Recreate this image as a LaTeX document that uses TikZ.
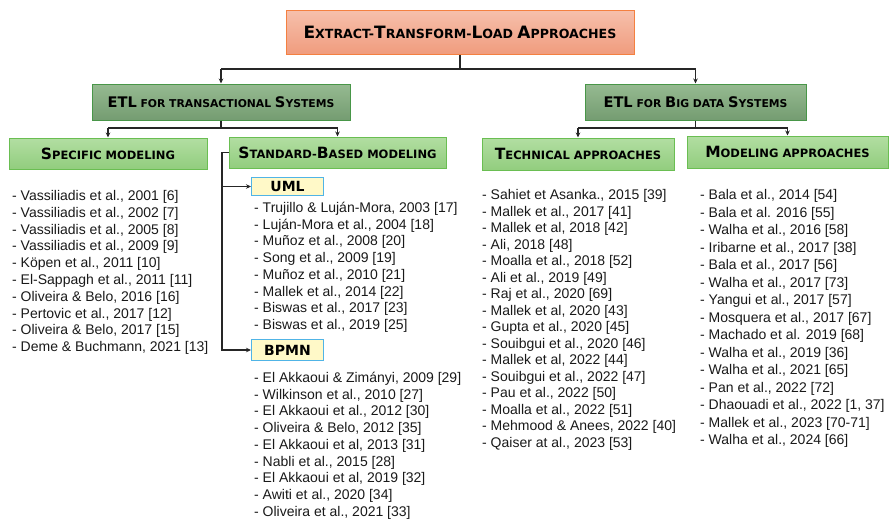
\documentclass[tikz,border=0pt]{standalone}
\usepackage{fontspec}
\setmainfont{Liberation Sans}
\newfontfamily\hdr{DejaVu Sans}
\usetikzlibrary{arrows.meta}
\definecolor{salmonT}{RGB}{246,192,172}
\definecolor{salmonB}{RGB}{240,156,126}
\definecolor{salmonD}{RGB}{244,128,64}
\definecolor{dgT}{RGB}{150,186,145}
\definecolor{dgB}{RGB}{116,156,113}
\definecolor{dgD}{RGB}{72,150,72}
\definecolor{lgT}{RGB}{178,222,162}
\definecolor{lgB}{RGB}{146,205,126}
\definecolor{lgD}{RGB}{106,190,82}
\definecolor{ylw}{RGB}{255,249,200}
\definecolor{blu}{RGB}{80,180,230}
\newcommand{\CapA}[1]{{\fontsize{17}{17}\selectfont #1}}
\newcommand{\CapB}[1]{{\fontsize{14.6}{15}\selectfont #1}}
\newcommand{\CapC}[1]{{\fontsize{15.5}{16}\selectfont #1}}
\tikzset{
  topbox/.style={draw=salmonD, line width=1pt, top color=salmonT, bottom color=salmonB,
    minimum width=348pt, minimum height=44pt, inner sep=0pt,
    font=\hdr\bfseries\fontsize{12.6}{13}\selectfont},
  darkbox/.style={draw=dgD, line width=1pt, top color=dgT, bottom color=dgB,
    minimum height=36pt, inner sep=0pt, font=\hdr\bfseries\fontsize{10.8}{11}\selectfont},
  lightbox/.style={draw=lgD, line width=1pt, top color=lgT, bottom color=lgB,
    inner sep=0pt, font=\hdr\bfseries\fontsize{11.5}{12}\selectfont},
  stdbox/.style={draw=blu, line width=1pt, fill=ylw, inner sep=0pt, minimum width=72pt,
    font=\hdr\bfseries\fontsize{14}{14}\selectfont},
  item/.style={anchor=west, inner sep=0pt, text height=10pt, text depth=3pt,
    font=\fontsize{14}{16}\selectfont, text=black!90},
  conn/.style={line width=1.1pt, black!85},
  arr/.style={conn, -{Stealth[length=5pt,width=4.5pt]}}
}
\begin{document}
\begin{tikzpicture}[x=1pt,y=-1pt]
\useasboundingbox (0,0) rectangle (889,520);
% boxes
\node[topbox] (top) at (460,32) {\CapA{E}XTRACT-\CapA{T}RANSFORM-\CapA{L}OAD \CapA{A}PPROACHES};
\node[darkbox, minimum width=258pt] (etlT) at (221,102) {\CapB{ETL} FOR TRANSACTIONAL \CapB{S}YSTEMS};
\node[darkbox, minimum width=221pt] (etlB) at (695.5,102) {\CapB{ETL} FOR \CapB{B}IG DATA \CapB{S}YSTEMS};
\node[lightbox, minimum width=198pt, minimum height=31pt] (spec) at (108,153.5) {\CapC{S}PECIFIC MODELING};
\node[lightbox, minimum width=217pt, minimum height=31pt] (std) at (337.5,152.5) {\CapC{S}TANDARD-\CapC{B}ASED MODELING};
\node[lightbox, minimum width=192pt, minimum height=32pt] (tech) at (578,154) {\CapC{T}ECHNICAL APPROACHES};
\node[lightbox, minimum width=201pt, minimum height=32pt] (model) at (787.5,152) {\CapC{M}ODELING APPROACHES};
\node[stdbox, minimum height=18pt] (uml) at (287.5,186.5) {UML};
\node[stdbox, minimum height=21pt] (bpmn) at (287.5,350) {BPMN};
% connectors
\coordinate (hL) at (221,69);
\coordinate (hR) at (695.5,69);
\draw[conn] (top.south) -- (top.south |- hL);
\draw[conn] (hL) -- (hR);
\draw[arr] (hL) -- (etlT.north);
\draw[arr] (hR) -- (etlB.north);
\coordinate (tj) at (221,128);
\draw[conn] (etlT.south) -- (tj);
\draw[conn] (spec.north |- tj) -- (std.north |- tj);
\draw[arr] (spec.north |- tj) -- (spec.north);
\draw[arr] (std.north |- tj) -- (std.north);
\coordinate (bj) at (695.5,128);
\draw[conn] (etlB.south) -- (bj);
\draw[conn] (tech.north |- bj) -- (model.north |- bj);
\draw[arr] (tech.north |- bj) -- (tech.north);
\draw[arr] (model.north |- bj) -- (model.north);
\coordinate (bx) at (222,152.5);
\draw[arr] (std.west) -- (bx) |- (bpmn.west);
\draw[arr] (bx |- uml.west) -- (uml.west);
% lists
\foreach [count=\i] \t in {
  {- Vassiliadis et al., 2001 [6]},
  {- Vassiliadis et al., 2002 [7]},
  {- Vassiliadis et al., 2005 [8]},
  {- Vassiliadis et al., 2009 [9]},
  {- Köpen et al., 2011 [10]},
  {- El-Sappagh et al., 2011 [11]},
  {- Oliveira \& Belo, 2016 [16]},
  {- Pertovic et al., 2017 [12]},
  {- Oliveira \& Belo, 2017 [15]},
  {- Deme \& Buchmann, 2021 [13]}}
  \node[item] (sp\i) at (12,{197+(\i-1)*16.8}) {\t};
\foreach [count=\i] \t in {
  {- Trujillo \& Luján-Mora, 2003 [17]},
  {- Luján-Mora et al., 2004 [18]},
  {- Muñoz et al., 2008 [20]},
  {- Song et al., 2009 [19]},
  {- Muñoz et al., 2010 [21]},
  {- Mallek et al., 2014 [22]},
  {- Biswas et al., 2017 [23]},
  {- Biswas et al., 2019 [25]}}
  \node[item] (um\i) at (254,{209+(\i-1)*16.7}) {\t};
\foreach [count=\i] \t in {
  {- El Akkaoui \& Zimányi, 2009 [29]},
  {- Wilkinson et al., 2010 [27]},
  {- El Akkaoui et al., 2012 [30]},
  {- Oliveira \& Belo, 2012 [35]},
  {- El Akkaoui et al, 2013 [31]},
  {- Nabli et al., 2015 [28]},
  {- El Akkaoui et al, 2019 [32]},
  {- Awiti et al., 2020 [34]},
  {- Oliveira et al., 2021 [33]}}
  \node[item] (bp\i) at (254,{379+(\i-1)*16.7}) {\t};
\foreach [count=\i] \t in {
  {- Sahiet et Asanka., 2015 [39]},
  {- Mallek et al., 2017 [41]},
  {- Mallek et al, 2018 [42]},
  {- Ali, 2018 [48]},
  {- Moalla et al., 2018 [52]},
  {- Ali et al., 2019 [49]},
  {- Raj et al., 2020 [69]},
  {- Mallek et al, 2020 [43]},
  {- Gupta et al., 2020 [45]},
  {- Souibgui et al., 2020 [46]},
  {- Mallek et al, 2022 [44]},
  {- Souibgui et al., 2022 [47]},
  {- Pau et al., 2022 [50]},
  {- Moalla et al., 2022 [51]},
  {- Mehmood \& Anees, 2022 [40]},
  {- Qaiser at al., 2023 [53]}}
  \node[item] (te\i) at (482,{196+(\i-1)*16.5}) {\t};
\foreach [count=\i] \t in {
  {- Bala et al., 2014 [54]},
  {- Bala et al. 2016 [55]},
  {- Walha et al., 2016 [58]},
  {- Iribarne et al., 2017 [38]},
  {- Bala et al., 2017 [56]},
  {- Walha et al., 2017 [73]},
  {- Yangui et al., 2017 [57]},
  {- Mosquera et al., 2017 [67]},
  {- Machado et al. 2019 [68]},
  {- Walha et al., 2019 [36]},
  {- Walha et al., 2021 [65]},
  {- Pan et al., 2022 [72]},
  {- Dhaouadi et al., 2022 [1, 37]},
  {- Mallek et al., 2023 [70-71]},
  {- Walha et al., 2024 [66]}}
  \node[item] (mo\i) at (700,{196+(\i-1)*17.5}) {\t};
\end{tikzpicture}
\end{document}
